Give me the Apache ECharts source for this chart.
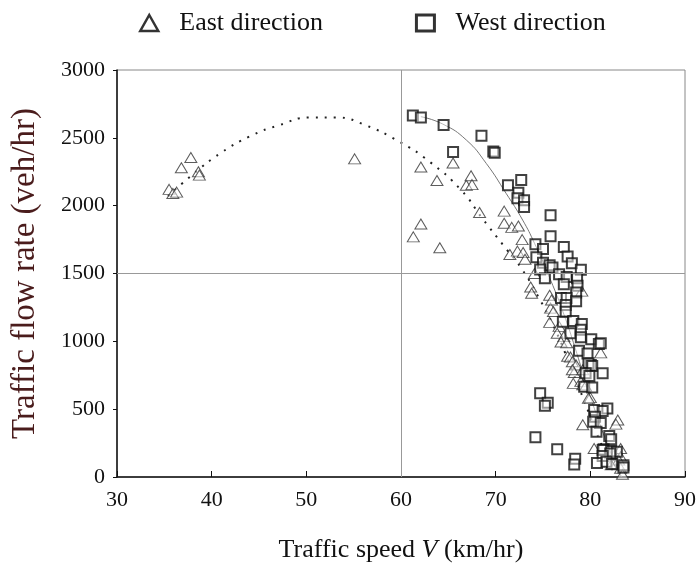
<!DOCTYPE html>
<html>
<head>
<meta charset="utf-8">
<script src="https://cdn.jsdelivr.net/npm/echarts@6/dist/echarts.min.js"></script>
<style>
  html, body { margin: 0; padding: 0; background: #fff; }
  #chart { width: 699px; height: 569px; }
</style>
</head>
<body>
<div id="chart"></div>
<script>
// East direction observations [speed km/hr, flow veh/hr]
const eastPoints = [
  [35.5, 2120], [35.9, 2090], [36.3, 2100], [36.8, 2280], [37.8, 2355], [38.6, 2250], [38.7, 2225], [55.1, 2345],
  [61.3, 1770], [62.1, 1865], [62.1, 2285], [63.8, 2185], [64.1, 1690], [65.5, 2315], [66.9, 2150], [67.4, 2220],
  [67.5, 2155], [68.3, 1950], [70.9, 1960], [70.9, 1870], [71.5, 1640], [71.7, 1840], [72.3, 1665], [72.4, 1850],
  [72.8, 1750], [72.9, 1655], [73.1, 1605], [73.7, 1400], [73.8, 1355], [74.1, 1500], [75.7, 1340], [75.8, 1245],
  [75.9, 1305], [76.1, 1220], [75.7, 1140], [76.7, 1110], [76.5, 1060], [77.2, 1035], [76.9, 995], [77.5, 990],
  [77.6, 890], [77.9, 885], [78.1, 850], [78.5, 825], [78.3, 770], [78.1, 790], [79.2, 790], [78.2, 690],
  [79.0, 705], [79.2, 680], [79.5, 670], [80.0, 585], [79.8, 580], [79.1, 1370], [81.1, 915], [79.2, 385],
  [82.9, 420], [82.7, 390], [80.4, 210], [83.2, 210], [82.5, 160], [83.2, 150], [83.0, 125], [82.2, 90],
  [83.2, 65], [83.4, 20]
];

// West direction observations [speed km/hr, flow veh/hr]
const westPoints = [
  [61.25, 2665], [62.1, 2650], [64.5, 2595], [68.5, 2515], [65.5, 2395], [69.75, 2400], [69.9, 2390], [72.7, 2190],
  [71.3, 2150], [72.4, 2095], [72.3, 2055], [73.0, 2040], [73.0, 1990], [75.8, 1930], [75.8, 1775], [74.2, 1715],
  [75.0, 1680], [74.3, 1620], [77.2, 1695], [77.6, 1625], [78.05, 1575], [79.0, 1528], [75.0, 1580], [75.7, 1560],
  [76.0, 1545], [74.7, 1530], [75.2, 1465], [76.7, 1495], [77.5, 1475], [78.6, 1465], [77.2, 1420], [78.65, 1410],
  [78.5, 1360], [76.9, 1320], [77.5, 1320], [78.5, 1295], [77.4, 1268], [77.4, 1218], [77.1, 1145], [78.2, 1150],
  [79.1, 1128], [79.0, 1085], [77.9, 1060], [79.0, 1030], [80.1, 1015], [80.9, 980], [78.8, 930], [79.7, 910],
  [80.05, 825], [79.8, 838], [80.2, 818], [79.5, 765], [79.9, 745], [81.3, 765], [79.35, 665], [80.2, 660],
  [74.7, 617], [75.5, 548], [75.2, 526], [81.8, 505], [80.4, 494], [81.3, 486], [80.5, 445], [80.3, 408],
  [81.1, 398], [80.65, 334], [74.2, 293], [82.0, 302], [82.2, 278], [76.5, 204], [81.4, 204], [81.3, 199],
  [82.2, 192], [82.8, 187], [82.1, 174], [81.3, 155], [78.4, 135], [78.3, 92], [80.7, 103], [81.7, 113],
  [82.3, 96], [83.5, 86], [83.5, 70], [81.1, 985]
];

// fitted curves
const eastCurve = [
  [35.4, 2070], [38, 2230], [41, 2390], [44, 2510], [47, 2590], [50.4, 2650], [53.2, 2650], [56, 2600],
  [59.85, 2470], [63.0, 2325], [66.35, 2115], [68.6, 1905], [70.9, 1700], [72.7, 1540], [74.6, 1317],
  [76.2, 1100], [77.6, 870], [78.9, 640], [80.2, 410], [81.4, 200], [82.5, 30]
];
const westCurve = [
  [62.1, 2656], [64.4, 2602], [66.9, 2484], [69.0, 2312], [71.1, 2091], [72.85, 1894], [74.1, 1723],
  [75.8, 1452], [77.2, 1200], [78.4, 950], [79.5, 700], [80.6, 470], [81.7, 260], [82.7, 90], [83.3, 0]
];

const xTicks = { min: 30, max: 90, step: 10 };
const yTicks = { min: 0, max: 3000, step: 500 };
const refLines = { speed: 60, flow: 1500 };

const serif = '"Liberation Serif", "DejaVu Serif", serif';

const chart = echarts.init(document.getElementById('chart'), null, { renderer: 'canvas' });

chart.setOption({
  backgroundColor: '#fff',
  animation: false,
  legend: {
    top: 5,
    left: 134,
    itemGap: 92,
    itemWidth: 18,
    itemHeight: 16,
    textStyle: {
      fontFamily: serif,
      fontSize: 26,
      color: '#111',
      padding: [0, 0, 0, 16]
    },
    data: [
      { name: 'East direction', icon: 'triangle', itemStyle: { color: '#fff', borderColor: '#000', borderWidth: 2.5 } },
      { name: 'West direction', icon: 'rect', itemStyle: { color: '#fff', borderColor: '#000', borderWidth: 3 } }
    ]
  },
  grid: {
    left: 117,
    right: 13,
    top: 70,
    bottom: 92,
    show: true,
    borderColor: '#888',
    borderWidth: 1
  },
  xAxis: {
    type: 'value',
    min: xTicks.min,
    max: xTicks.max,
    interval: xTicks.step,
    name: '{n|Traffic speed }{i|V}{n| (km/hr)}',
    nameLocation: 'middle',
    nameGap: 60,
    nameTextStyle: {
      rich: {
        n: { fontFamily: serif, fontSize: 26, color: '#111' },
        i: { fontFamily: serif, fontSize: 26, color: '#111', fontStyle: 'italic' }
      }
    },
    axisLine: { lineStyle: { color: '#111', width: 1.5 } },
    axisTick: { inside: true, length: 6, lineStyle: { color: '#111' } },
    axisLabel: { fontFamily: serif, fontSize: 22, color: '#111', margin: 12 },
    splitLine: { show: false }
  },
  yAxis: {
    type: 'value',
    min: yTicks.min,
    max: yTicks.max,
    interval: yTicks.step,
    name: 'Traffic flow rate (veh/hr)',
    nameLocation: 'middle',
    nameGap: 75,
    nameTextStyle: { fontFamily: serif, fontSize: 33, color: '#4a1c1c' },
    axisLine: { show: true, lineStyle: { color: '#111', width: 1.5 } },
    axisTick: { show: true, inside: false, length: 4, lineStyle: { color: '#111' } },
    axisLabel: { fontFamily: serif, fontSize: 22, color: '#111', margin: 12, formatter: v => String(v) },
    splitLine: { show: false }
  },
  series: [
    {
      name: 'refs',
      type: 'line',
      data: [],
      silent: true,
      markLine: {
        silent: true,
        symbol: 'none',
        label: { show: false },
        lineStyle: { color: '#999', type: 'solid', width: 1 },
        data: [{ xAxis: refLines.speed }, { yAxis: refLines.flow }]
      }
    },
    {
      name: 'East fit',
      type: 'line',
      data: eastCurve,
      smooth: true,
      showSymbol: false,
      silent: true,
      lineStyle: { color: '#222', width: 2, type: [2, 7] },
      z: 1
    },
    {
      name: 'West fit',
      type: 'line',
      data: westCurve,
      smooth: true,
      showSymbol: false,
      silent: true,
      lineStyle: { color: '#777', width: 1 },
      z: 1
    },
    {
      name: 'East direction',
      type: 'scatter',
      data: eastPoints,
      symbol: 'triangle',
      symbolSize: [12, 10],
      itemStyle: { color: 'rgba(255,255,255,0.6)', borderColor: '#333', borderWidth: 1 },
      z: 3
    },
    {
      name: 'West direction',
      type: 'scatter',
      data: westPoints,
      symbol: 'rect',
      symbolSize: 10,
      itemStyle: { color: 'rgba(255,255,255,0.6)', borderColor: '#111', borderWidth: 2 },
      z: 4
    }
  ]
});
</script>
</body>
</html>
